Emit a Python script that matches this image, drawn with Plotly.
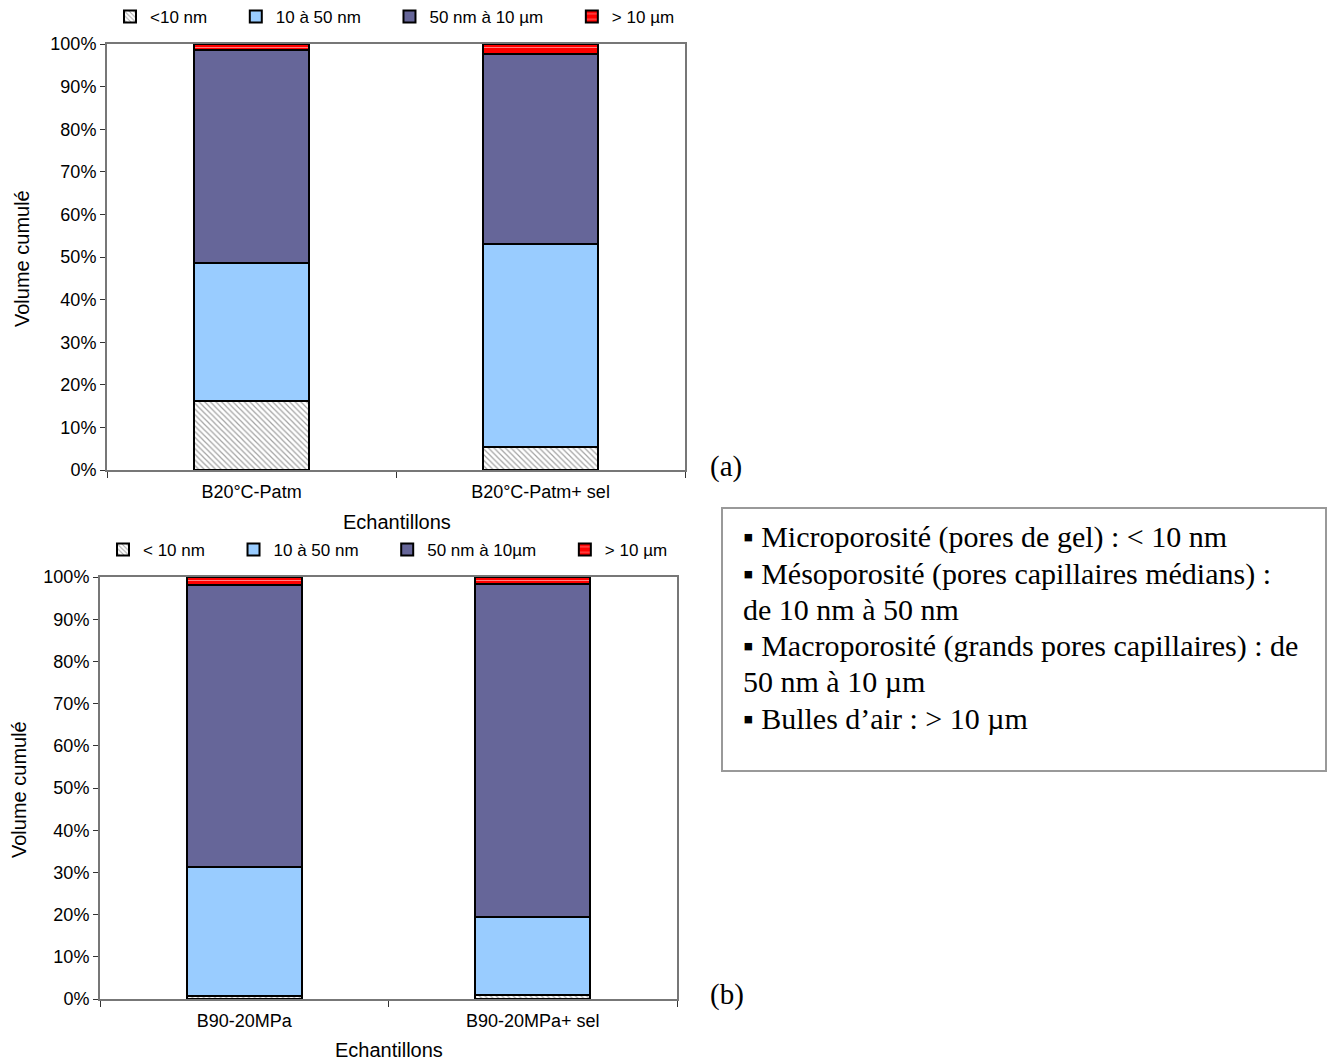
import plotly.graph_objects as go

# page body adds an 8px margin, so the figure is drawn 8px smaller and shifted
OFF = 8
W, H = 1336 - OFF, 1062 - OFF

# ---- data ----
cats_a = ["B20°C-Patm", "B20°C-Patm+ sel"]
cats_b = ["B90-20MPa", "B90-20MPa+ sel"]
names_a = ["&lt;10 nm", "10 à 50 nm", "50 nm à 10 µm", "&gt; 10 µm"]
names_b = ["&lt; 10 nm", "10 à 50 nm", "50 nm à 10µm", "&gt; 10 µm"]
micro_a = [16.2, 5.4]
meso_a = [32.4, 47.7]
macro_a = [50.0, 44.6]
air_a = [1.4, 2.3]
micro_b = [0.7, 1.0]
meso_b = [30.6, 18.4]
macro_b = [66.8, 78.9]
air_b = [1.9, 1.7]
y_ticks = [0, 10, 20, 30, 40, 50, 60, 70, 80, 90, 100]
y_ticktext = [f"{v}%" for v in y_ticks]

FONT = "Liberation Sans, Arial, sans-serif"
SERIF = "Liberation Serif, Times New Roman, serif"
PAD = "&nbsp;" * 5

styles = [
    dict(color="white", pattern=dict(shape="\\", fgcolor="#444444", bgcolor="white", size=4, solidity=0.3)),
    dict(color="#99CCFF"),
    dict(color="#666699"),
    dict(color="#FF0000", pattern=dict(shape="-", fgcolor="white", bgcolor="#FF0000", size=7, solidity=0.15)),
]

fig = go.Figure()

def add_set(cats, series, names, xa, ya, leg):
    for vals, nm, st in zip(series, names, styles):
        fig.add_trace(go.Bar(
            x=cats, y=vals, name=nm + PAD, xaxis=xa, yaxis=ya, legend=leg,
            marker=dict(line=dict(color="black", width=2), **st),
            hovertemplate="%{y}%<extra>" + nm + "</extra>",
        ))

add_set(cats_a, [micro_a, meso_a, macro_a, air_a], names_a, "x", "y", "legend")
add_set(cats_b, [micro_b, meso_b, macro_b, air_b], names_b, "x2", "y2", "legend2")

def px_x(p):
    return (p - OFF) / W

def px_y(p):
    return 1 - (p - OFF) / H

axis_common = dict(showline=True, linecolor="#777777", linewidth=2, mirror=True,
                   ticks="outside", tickcolor="#333333", tickwidth=1,
                   showgrid=False, zeroline=False, automargin=False,
                   tickfont=dict(family=FONT, size=18, color="black"))

fig.update_layout(
    width=W, height=H,
    margin=dict(l=0, r=0, t=0, b=0, autoexpand=False),
    paper_bgcolor="white", plot_bgcolor="white",
    barmode="stack", bargap=0.6,
    font=dict(family=FONT, size=17, color="black"),
    xaxis=dict(domain=[px_x(107), px_x(685)], anchor="y", type="category", tickson="boundaries",
               ticklen=6, ticklabelstandoff=4, **axis_common),
    yaxis=dict(domain=[px_y(470), px_y(44)], anchor="x", range=[0, 100], tickvals=y_ticks,
               ticktext=y_ticktext, ticklen=5, **axis_common),
    xaxis2=dict(domain=[px_x(100), px_x(677)], anchor="y2", type="category", tickson="boundaries",
                ticklen=6, ticklabelstandoff=4, **axis_common),
    yaxis2=dict(domain=[px_y(999), px_y(577)], anchor="x2", range=[0, 100], tickvals=y_ticks,
                ticktext=y_ticktext, ticklen=5, **axis_common),
    legend=dict(orientation="h", x=px_x(110), y=px_y(17), xanchor="left", yanchor="middle",
                traceorder="normal", font=dict(family=FONT, size=17),
                itemsizing="constant", bgcolor="rgba(0,0,0,0)"),
    legend2=dict(orientation="h", x=px_x(103), y=px_y(550), xanchor="left", yanchor="middle",
                 traceorder="normal", font=dict(family=FONT, size=17),
                 itemsizing="constant", bgcolor="rgba(0,0,0,0)"),
    showlegend=True,
)

# axis titles
for txt, x, y, ang in [("Echantillons", 397, 522, 0), ("Echantillons", 389, 1050, 0),
                       ("Volume cumulé", 22, 259, -90), ("Volume cumulé", 19, 790, -90)]:
    fig.add_annotation(text=txt, xref="paper", yref="paper", x=px_x(x), y=px_y(y),
                       xanchor="center", yanchor="middle", showarrow=False, textangle=ang,
                       font=dict(family=FONT, size=20, color="black"))

fig.add_shape(type="rect", xref="paper", yref="paper",
              x0=px_x(722), x1=px_x(1326), y0=px_y(771), y1=px_y(508),
              line=dict(color="#999999", width=2), fillcolor="white", layer="below")

lines = [
    ("▪ Microporosité (pores de gel) : &lt; 10 nm", 537),
    ("▪ Mésoporosité (pores capillaires médians) :", 574),
    ("de 10 nm à 50 nm", 609),
    ("▪ Macroporosité (grands pores capillaires) : de", 646),
    ("50 nm à 10 µm", 681),
    ("▪ Bulles d’air : &gt; 10 µm", 718),
]
for txt, yy in lines:
    fig.add_annotation(text=txt, xref="paper", yref="paper", x=px_x(741), y=px_y(yy),
                       xanchor="left", yanchor="middle", showarrow=False,
                       font=dict(family=SERIF, size=30, color="black"))

for txt, yy in [("(a)", 466), ("(b)", 994)]:
    fig.add_annotation(text=txt, xref="paper", yref="paper", x=px_x(708), y=px_y(yy),
                       xanchor="left", yanchor="middle", showarrow=False,
                       font=dict(family=SERIF, size=29, color="black"))

fig.write_html("out.html")
